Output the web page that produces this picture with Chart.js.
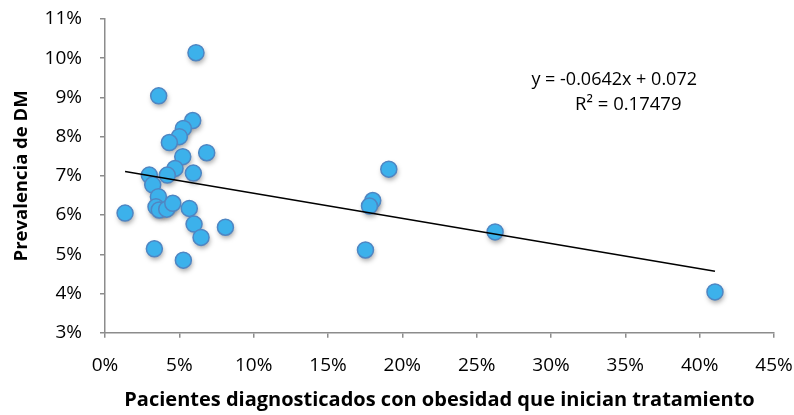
<!DOCTYPE html>
<html lang="es">
<head>
<meta charset="UTF-8">
<title>Prevalencia de DM</title>
<style>
  html, body { margin: 0; padding: 0; background: #fff; }
  #wrap { width: 794px; height: 415px; }
</style>
</head>
<body>
<div id="wrap"><canvas id="myChart" width="794" height="415"></canvas></div>

<script src="https://cdn.jsdelivr.net/npm/chart.js"></script>
<script>
// pacientes diagnosticados con obesidad que inician tratamiento (fraccion)
const pacientes = [
  0.0612, 0.0361, 0.0590, 0.0527, 0.0500, 0.0433, 0.0684, 0.0523,
  0.0471, 0.0594, 0.0419, 0.0298, 0.0321, 0.0359, 0.0343, 0.0365,
  0.0415, 0.0456, 0.0567, 0.0599, 0.0646, 0.0810, 0.0332, 0.0527,
  0.0135, 0.1909, 0.1801, 0.1779, 0.1752, 0.2624, 0.4103
]
// prevalencia de DM (fraccion)
const prevalencia = [
  0.1014, 0.0904, 0.0841, 0.0821, 0.0800, 0.0785, 0.0759, 0.0749,
  0.0719, 0.0707, 0.0702, 0.0702, 0.0677, 0.0647, 0.0621, 0.0613,
  0.0615, 0.0630, 0.0617, 0.0577, 0.0543, 0.0569, 0.0514, 0.0485,
  0.0605, 0.0717, 0.0637, 0.0623, 0.0511, 0.0557, 0.0404
]
// linea de tendencia (extremos)
const tendenciaX = [0.0135, 0.4103]
const tendenciaY = [0.0711, 0.0457]

const xTicks = [0, 0.05, 0.10, 0.15, 0.20, 0.25, 0.30, 0.35, 0.40, 0.45]
const yTicks = [0.03, 0.04, 0.05, 0.06, 0.07, 0.08, 0.09, 0.10, 0.11]

const ecuacion = ['y = -0.0642x + 0.072', 'R² = 0.17479']

const puntos = pacientes.map((x, i) => ({ x: x, y: prevalencia[i] }))
const linea = tendenciaX.map((x, i) => ({ x: x, y: tendenciaY[i] }))

const fuente = '"Open Sans", Lato, sans-serif'
const gris = '#8c8c8c'

// sombra suave bajo los puntos, como en Excel
const sombra = {
  id: 'sombra',
  beforeDatasetDraw(chart, args) {
    if (args.index !== 0) return
    const ctx = chart.ctx
    ctx.save()
    ctx.shadowColor = 'rgba(0,0,0,0.35)'
    ctx.shadowBlur = 5
    ctx.shadowOffsetX = 1
    ctx.shadowOffsetY = 3
    ctx.fillStyle = '#3cb1eb'
    args.meta.data.forEach(p => {
      ctx.beginPath()
      ctx.arc(p.x, p.y, 8, 0, Math.PI * 2)
      ctx.fill()
    })
    ctx.restore()
  }
}

// texto de la ecuacion de la tendencia
const textoEcuacion = {
  id: 'textoEcuacion',
  afterDraw(chart) {
    const ctx = chart.ctx
    const sx = chart.scales.x
    const sy = chart.scales.y
    ctx.save()
    ctx.font = '18px ' + fuente
    ctx.fillStyle = '#000'
    ctx.textAlign = 'center'
    ctx.textBaseline = 'middle'
    ctx.fillText(ecuacion[0], sx.getPixelForValue(0.3425), sy.getPixelForValue(0.0945))
    ctx.font = '18.5px ' + fuente
    ctx.fillText(ecuacion[1], sx.getPixelForValue(0.3520), sy.getPixelForValue(0.0881))
    ctx.restore()
  }
}

const diagramCanvas = document.querySelector('#myChart')

new Chart(diagramCanvas, {
  type: 'scatter',
  data: {
    datasets: [{
      label: 'Prevalencia de DM',
      data: puntos,
      backgroundColor: '#3cb1eb',
      borderColor: '#4f86c3',
      borderWidth: 1.5,
      pointRadius: 8,
      pointHoverRadius: 8,
      order: 1
    }, {
      type: 'line',
      label: 'Tendencia',
      data: linea,
      borderColor: '#000',
      borderWidth: 1.5,
      pointRadius: 0,
      fill: false,
      order: 0
    }]
  },
  options: {
    responsive: false,
    animation: false,
    layout: { padding: { top: 19, right: 20, left: 0, bottom: 0 } },
    plugins: {
      legend: { display: false },
      tooltip: { enabled: false }
    },
    scales: {
      x: {
        type: 'linear',
        min: 0,
        max: 0.45,
        afterBuildTicks: s => { s.ticks = xTicks.map(v => ({ value: v })) },
        afterFit: s => {
          s.height = 82.3
          s.paddingLeft = 0
          s.paddingRight = 0
        },
        grid: { drawOnChartArea: false, drawTicks: true, tickLength: 5, color: gris, lineWidth: 1.5 },
        border: { color: gris, width: 1.5 },
        ticks: {
          padding: 16,
          color: '#000',
          font: { family: fuente, size: 19 },
          callback: v => Math.round(v * 100) + '%'
        },
        title: {
          display: true,
          text: 'Pacientes diagnosticados con obesidad que inician tratamiento',
          color: '#000',
          font: { family: fuente, size: 20, weight: 'bold' },
          padding: { top: 0, bottom: 3 }
        }
      },
      y: {
        type: 'linear',
        min: 0.03,
        max: 0.11,
        afterBuildTicks: s => { s.ticks = yTicks.map(v => ({ value: v })) },
        afterFit: s => {
          s.width = 105
          s.paddingTop = 0
          s.paddingBottom = 0
        },
        grid: { drawOnChartArea: false, drawTicks: true, tickLength: 5, color: gris, lineWidth: 1.5 },
        border: { color: gris, width: 1.5 },
        ticks: {
          padding: 18,
          color: '#000',
          font: { family: fuente, size: 19 },
          callback: v => Math.round(v * 100) + '%'
        },
        title: {
          display: true,
          text: 'Prevalencia de DM',
          color: '#000',
          font: { family: fuente, size: 18.5, weight: 'bold' },
          padding: { top: 11, bottom: 0 }
        }
      }
    }
  },
  plugins: [sombra, textoEcuacion]
})
</script>
</body>
</html>
